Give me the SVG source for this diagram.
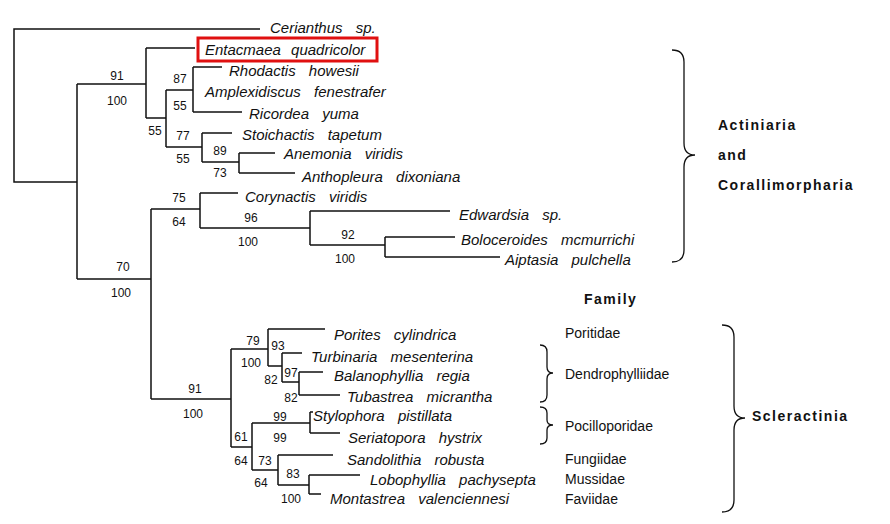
<svg xmlns="http://www.w3.org/2000/svg" width="890" height="524" viewBox="0 0 890 524">
<style>
.t{font-family:"Liberation Sans",Arial,sans-serif;font-style:italic;font-size:15px;word-spacing:9px;fill:#111}
.n{font-family:"Liberation Sans",Arial,sans-serif;font-size:12px;fill:#111;text-anchor:middle}
.f{font-family:"Liberation Sans",Arial,sans-serif;font-size:14px;fill:#111}
.b{font-family:"Liberation Sans",Arial,sans-serif;font-size:14px;font-weight:bold;letter-spacing:1.5px;fill:#111}
.l{fill:none;stroke:#111;stroke-width:1.5}
.br{fill:none;stroke:#111;stroke-width:1.3}
</style>
<rect width="890" height="524" fill="#fff"/>
<g id="connectors" class="l">
<path d="M260 29H14V182H77 M77 84V279 M77 84H146 M146 48V118 M146 48H195 M146 118H166 M166 90V147 M166 90H193 M193 67V112 M193 67H222 M193 112H242 M166 147H202 M202 133V162 M202 133H232 M202 162H239 M239 153V173 M239 153H275 M239 173H295"/>
<path d="M77 279H151 M151 209V399 M151 209H200 M200 193V228 M200 193H238 M200 228H310 M310 211V245 M310 211H450 M310 245H385 M385 237V257 M385 237H455 M385 257H500"/>
<path d="M151 399H231 M231 349V447 M231 349H268 M268 329V366 M268 329H325 M268 366H282 M282 353V382 M282 353H302 M282 382H299 M299 372V395 M299 372H323 M299 395H340 M231 447H252 M252 423V470 M252 423H310 M310 412V433 M310 412H313 M310 433H340 M252 470H278 M278 455V485 M278 455H333 M278 485H309 M309 475V494 M309 475H360 M309 494H321"/>
</g>
<g id="support">
<text class="n" x="117" y="80">91</text><text class="n" x="117" y="105">100</text>
<text class="n" x="180" y="83">87</text><text class="n" x="180" y="110">55</text>
<text class="n" x="155" y="135">55</text><text class="n" x="183" y="140">77</text><text class="n" x="183" y="163">55</text>
<text class="n" x="220" y="155">89</text><text class="n" x="220" y="177">73</text>
<text class="n" x="179" y="202">75</text><text class="n" x="179" y="226">64</text>
<text class="n" x="251" y="222">96</text><text class="n" x="248" y="246">100</text>
<text class="n" x="348" y="239">92</text><text class="n" x="345" y="263">100</text>
<text class="n" x="123" y="271">70</text><text class="n" x="121" y="297">100</text>
<text class="n" x="253" y="345">79</text><text class="n" x="278" y="350">93</text><text class="n" x="251" y="367">100</text>
<text class="n" x="271" y="384">82</text><text class="n" x="291" y="377">97</text><text class="n" x="291" y="402">82</text>
<text class="n" x="195" y="393">91</text><text class="n" x="193" y="418">100</text>
<text class="n" x="280" y="421">99</text><text class="n" x="280" y="442">99</text>
<text class="n" x="241" y="441">61</text><text class="n" x="241" y="465">64</text>
<text class="n" x="265" y="465">73</text><text class="n" x="261" y="487">64</text>
<text class="n" x="293" y="478">83</text><text class="n" x="291" y="503">100</text>
</g>
<g id="taxa">
<text class="t" x="270" y="33">Cerianthus sp.</text>
<g id="entacmaea"><rect x="198" y="38" width="179" height="23" fill="none" stroke="#e01010" stroke-width="3"/><text class="t" x="205" y="55" style="word-spacing:6px">Entacmaea quadricolor</text></g>
<text class="t" x="229" y="76">Rhodactis howesii</text>
<text class="t" x="205" y="97">Amplexidiscus fenestrafer</text>
<text class="t" x="249" y="119">Ricordea yuma</text>
<text class="t" x="242" y="140">Stoichactis tapetum</text>
<text class="t" x="284" y="159">Anemonia viridis</text>
<text class="t" x="302" y="182">Anthopleura dixoniana</text>
<text class="t" x="245" y="202">Corynactis viridis</text>
<text class="t" x="459" y="220">Edwardsia sp.</text>
<text class="t" x="461" y="245">Boloceroides mcmurrichi</text>
<text class="t" x="505" y="265">Aiptasia pulchella</text>
<text class="t" x="334" y="340">Porites cylindrica</text>
<text class="t" x="311" y="362">Turbinaria mesenterina</text>
<text class="t" x="334" y="381">Balanophyllia regia</text>
<text class="t" x="347" y="402">Tubastrea micrantha</text>
<text class="t" x="313" y="421">Stylophora pistillata</text>
<text class="t" x="348" y="443">Seriatopora hystrix</text>
<text class="t" x="347" y="465">Sandolithia robusta</text>
<text class="t" x="370" y="485">Lobophyllia pachysepta</text>
<text class="t" x="330" y="504">Montastrea valenciennesi</text>
</g>
<g id="groups">
<path class="br" d="M672 50Q684 50 684 62V143Q684 155 695 155Q684 155 684 167V250Q684 262 672 262"/>
<text class="b" x="718" y="130">Actiniaria</text>
<text class="b" x="718" y="160">and</text>
<text class="b" x="718" y="190">Corallimorpharia</text>
<text class="b" x="584" y="304">Family</text>
<text class="f" x="565" y="338">Poritidae</text>
<path class="br" d="M540 345Q547 345 547 352V367Q547 373 553 373Q547 373 547 379V395Q547 402 540 402"/>
<text class="f" x="565" y="379">Dendrophylliidae</text>
<path class="br" d="M540 407Q547 407 547 413V420Q547 425 553 425Q547 425 547 430V438Q547 444 540 444"/>
<text class="f" x="565" y="431">Pocilloporidae</text>
<text class="f" x="565" y="464">Fungiidae</text>
<text class="f" x="565" y="484">Mussidae</text>
<text class="f" x="565" y="504">Faviidae</text>
<path class="br" d="M722 325Q734 325 734 337V406Q734 418 745 418Q734 418 734 430V500Q734 512 722 512"/>
<text class="b" x="752" y="421">Scleractinia</text>
</g>
</svg>
